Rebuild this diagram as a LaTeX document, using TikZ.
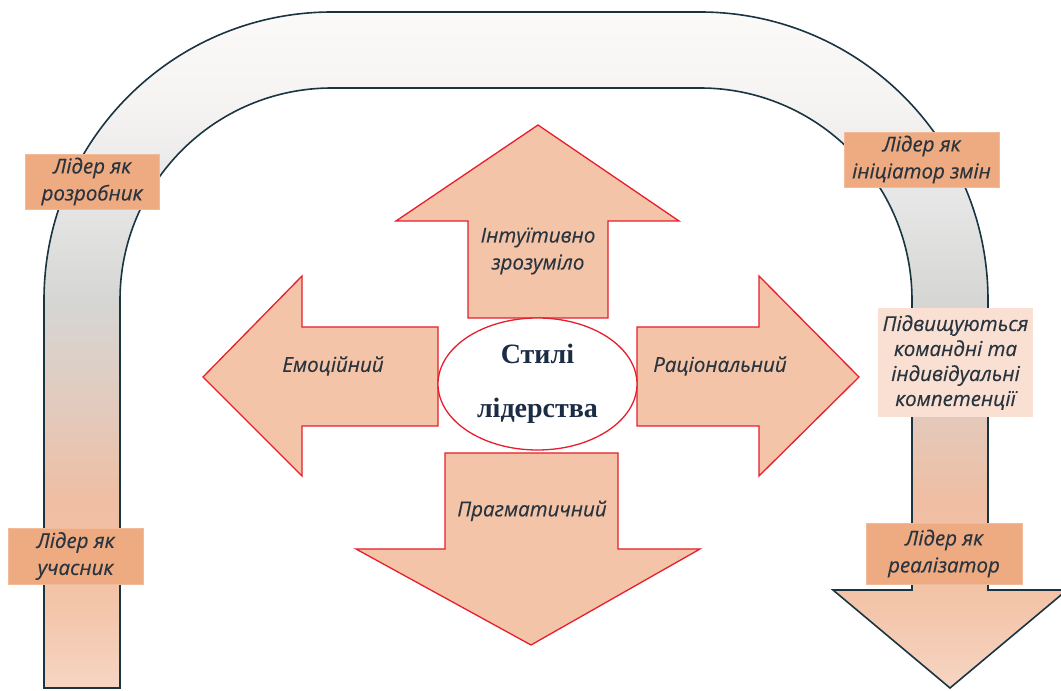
\documentclass[tikz,border=0pt]{standalone}
\usepackage{fontspec}
\setsansfont{Open Sans}[ItalicFeatures={FakeBold=0.35}]
\newfontfamily\titlefont{Liberation Serif}
\usetikzlibrary{shapes.geometric,positioning}

\definecolor{uturnline}{HTML}{1A3442}
\definecolor{arrowfill}{HTML}{F4C4A8}
\definecolor{arrowline}{HTML}{E61E2D}
\definecolor{rolefill}{HTML}{EEAA80}
\definecolor{notefill}{HTML}{FAE0D2}
\definecolor{labeltext}{HTML}{29343F}
\definecolor{titletext}{HTML}{1B2D45}

\definecolor{fadeA}{HTML}{F6D5C3}
\definecolor{fadeB}{HTML}{F3C4A8}
\definecolor{fadeC}{HTML}{EFBEA3}
\definecolor{fadeD}{HTML}{E4C9BA}
\definecolor{fadeE}{HTML}{D6D6D4}
\definecolor{fadeF}{HTML}{E6E6E6}
\definecolor{fadeG}{HTML}{F6F4F3}
\definecolor{fadeH}{HTML}{FCFAF9}

% peach at the bottom, grey at the bends, almost white on top
\pgfdeclareverticalshading{uturnfade}{100bp}{
    color(0bp)=(fadeA); color(25bp)=(fadeA); color(31.5bp)=(fadeB);
    color(38.9bp)=(fadeC); color(44.8bp)=(fadeD); color(53.7bp)=(fadeE);
    color(61.1bp)=(fadeF); color(68.5bp)=(fadeG); color(75bp)=(fadeH);
    color(100bp)=(fadeH)}

\tikzset{uturn/.style={
            draw=uturnline,
            line width=1.6pt,
            shading=uturnfade
        },
        bigarrow/.style={
            draw=arrowline,
            fill=arrowfill,
            line width=1.3pt,
            line join=miter
        },
        role/.style={
            fill=rolefill,
            draw=rolefill!80!white,
            inner sep=0pt
        },
        note/.style={
            fill=notefill,
            inner sep=0pt
        },
        core/.style={
            ellipse,
            draw=arrowline,
            fill=white,
            line width=1.3pt,
            minimum width=199pt,
            minimum height=132pt,
            inner sep=0pt,
            text=titletext,
            font=\titlefont\bfseries\fontsize{28}{54}\selectfont
        }
    }

\begin{document}
\begin{tikzpicture}[x=1pt,y=1pt,
        every node/.style={font=\sffamily\itshape\fontsize{20.5}{27}\selectfont,
            text=labeltext, align=center}]
        \useasboundingbox (0,0) rectangle (1061,691);

        % the large U-turn arrow
        \shade[uturn] (44,3) -- (44,391) arc[start angle=180,end angle=90,radius=288]
            -- (700,679) arc[start angle=90,end angle=0,radius=288]
            -- (988,101) -- (1067,101) -- (950,3) -- (833,101) -- (912,101)
            -- (912,391) arc[start angle=0,end angle=90,radius=212]
            -- (332,603) arc[start angle=90,end angle=180,radius=212]
            -- (120,3) -- cycle;

        % four arrows round the centre
        \draw[bigarrow] (468,373) -- (468,470) -- (396,470) -- (538,566)
            -- (679,470) -- (608,470) -- (608,373) -- cycle;
        \draw[bigarrow] (438,364) -- (302,364) -- (302,415) -- (203,314)
            -- (302,215) -- (302,265) -- (438,265) -- cycle;
        \draw[bigarrow] (637,364) -- (759,364) -- (759,415) -- (859,314)
            -- (759,215) -- (759,265) -- (637,265) -- cycle;
        \draw[bigarrow] (445,238) -- (445,142) -- (356,142) -- (531,46)
            -- (700,142) -- (618,142) -- (618,238) -- cycle;

        \node[core] at (537.5,307) (styles) {Стилі\\лідерства};

        \node at (538,440) (intuit) {Інтуїтивно\\зрозуміло};
        \node at (333,325) (emot) {Емоційний};
        \node at (720,325) (ration) {Раціональний};
        \node at (532,180) (pragm) {Прагматичний};

        % roles along the U-turn
        \node[role, minimum width=134pt, minimum height=55pt] at (92,509.5) (leaddev) {Лідер як\\розробник};
        \node[role, minimum width=155pt, minimum height=55pt] at (921.5,531.5) (leadinit) {Лідер як\\ініціатор змін};
        \node[note, minimum width=155pt, minimum height=109pt,
            font=\sffamily\itshape\fontsize{20.5}{25}\selectfont] at (955.5,328.5) (compet) {Підвищуються\\командні та\\індивідуальні\\компетенції};
        \node[role, minimum width=156pt, minimum height=61pt] at (944,137.5) (leadimpl) {Лідер як\\реалізатор};
        \node[role, minimum width=135pt, minimum height=56pt] at (75.5,135) (leadpart) {Лідер як\\учасник};

    \end{tikzpicture}
\end{document}
